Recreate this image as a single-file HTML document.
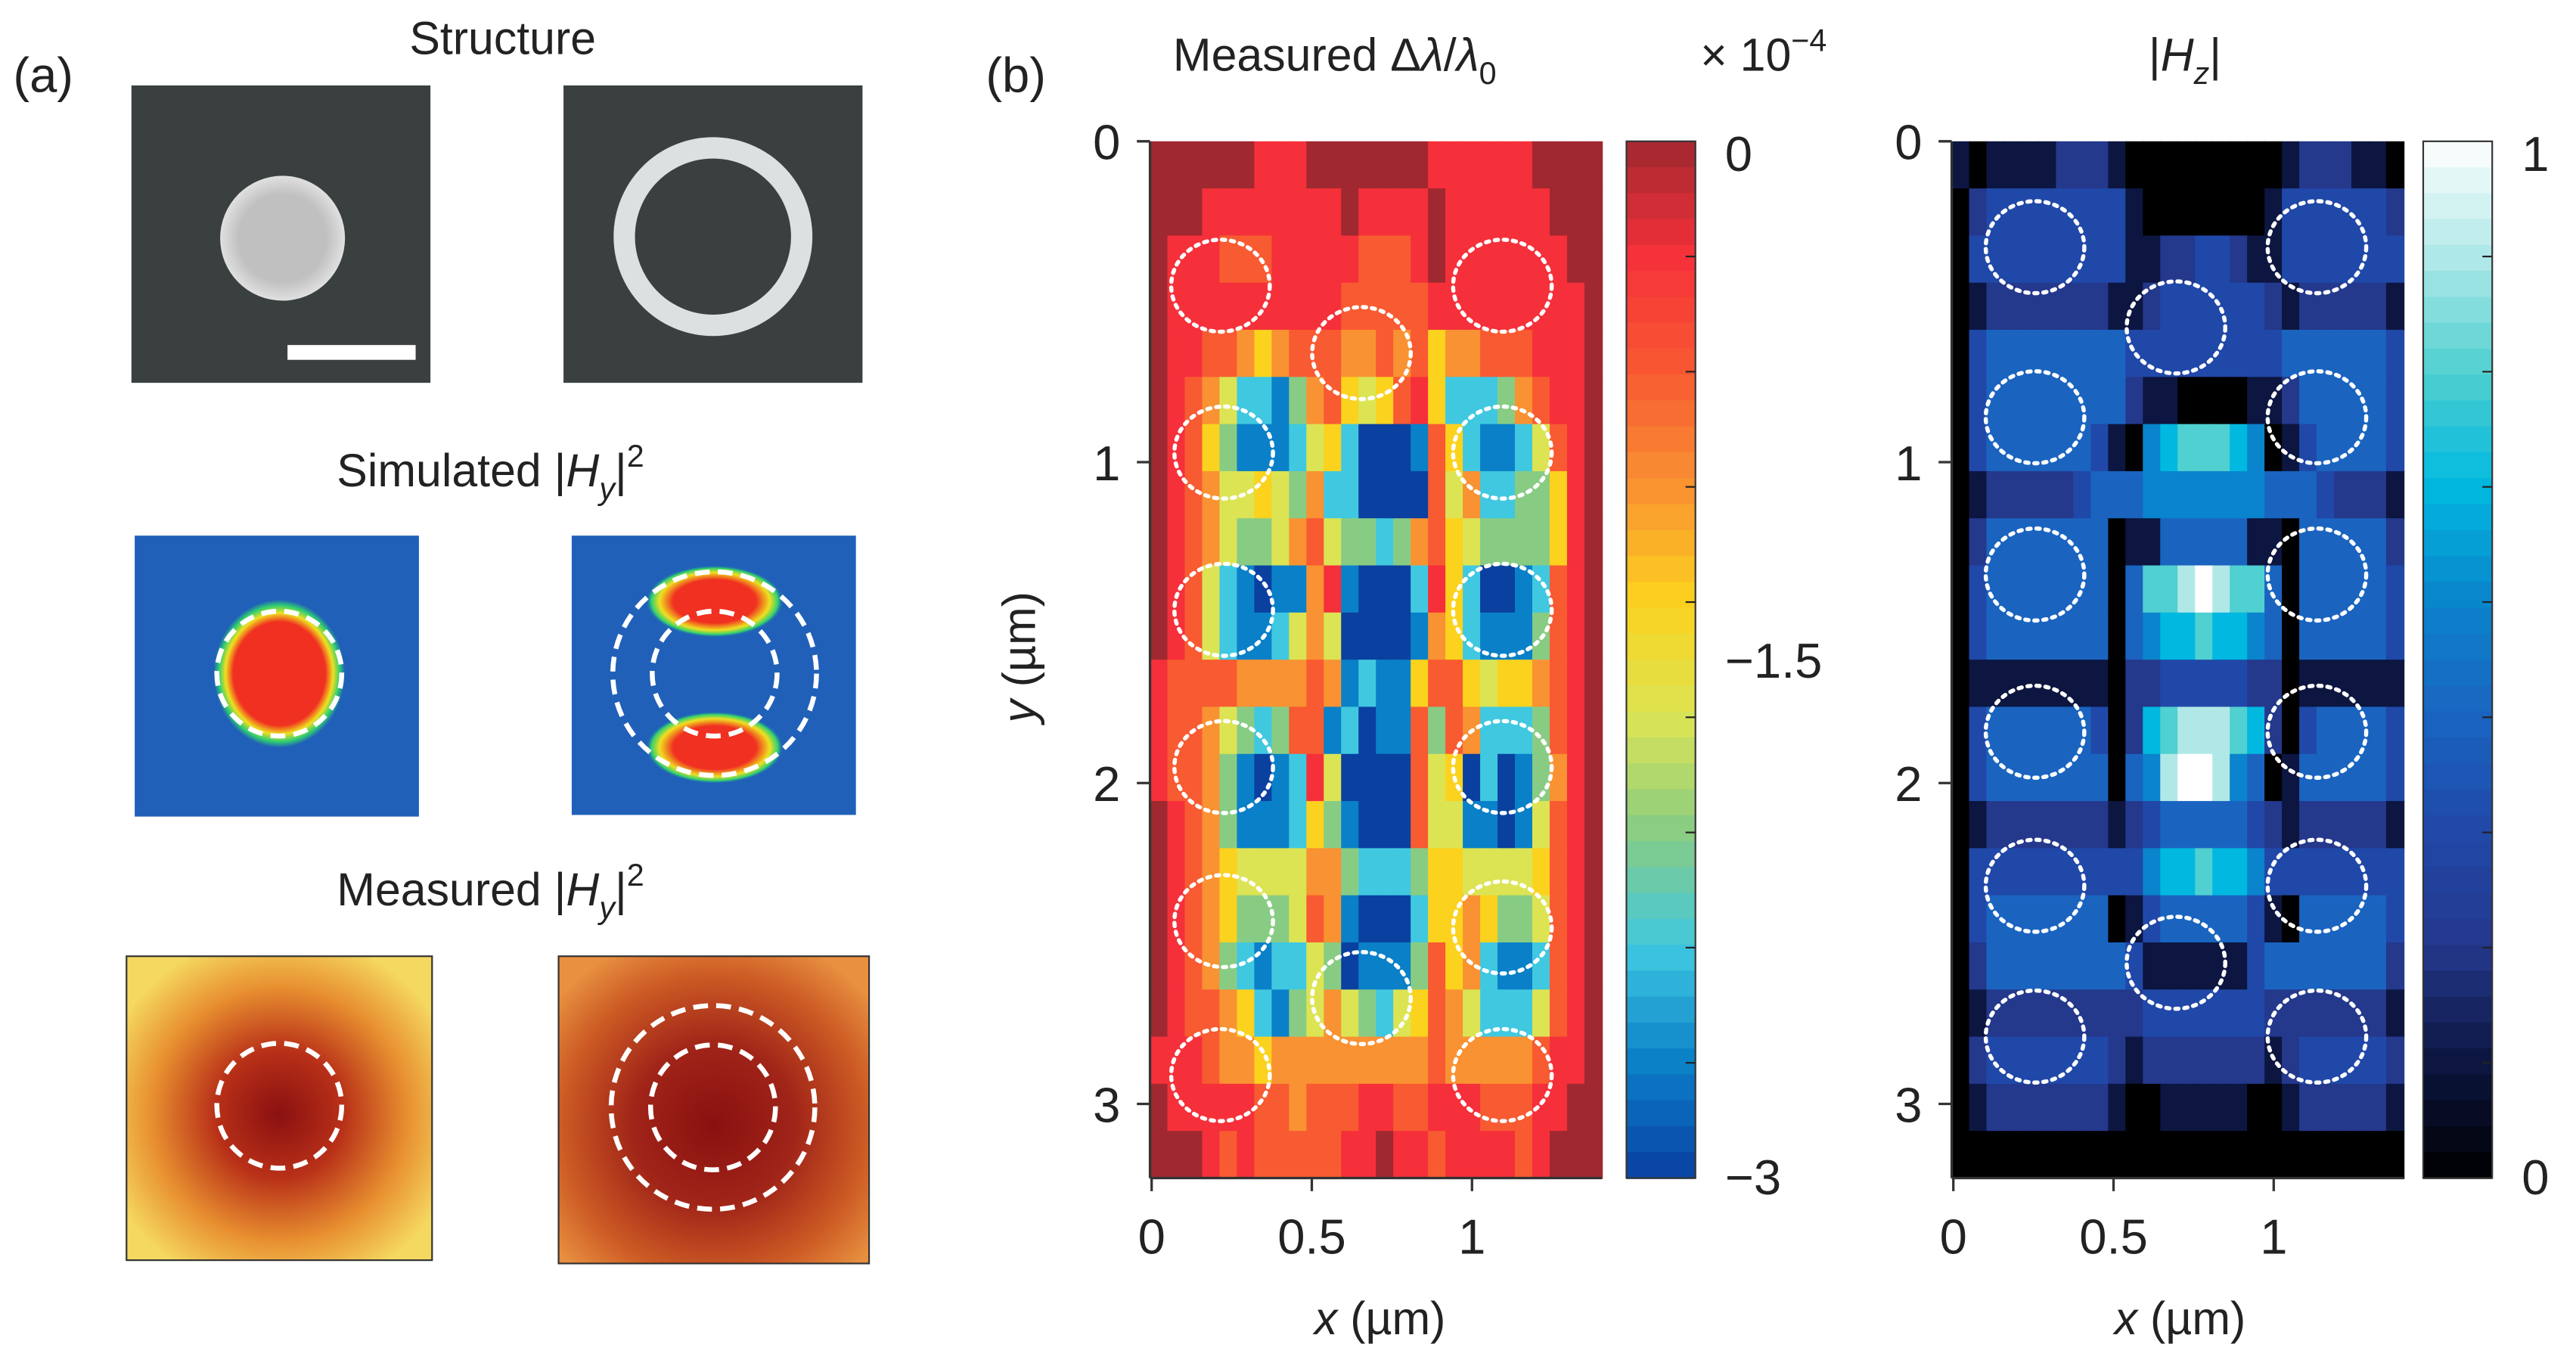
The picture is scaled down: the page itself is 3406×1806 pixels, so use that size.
<!DOCTYPE html>
<html><head><meta charset="utf-8"><style>
html,body{margin:0;padding:0;background:#fff}
svg{display:block}
text{font-family:"Liberation Sans","DejaVu Sans",sans-serif;fill:#222}
</style></head><body>
<svg id="fig" width="3406" height="1806" viewBox="0 0 1568 831.4" preserveAspectRatio="none" xmlns="http://www.w3.org/2000/svg">
<defs>
<radialGradient id="sim1" cx="50%" cy="50%" r="50%"><stop offset="0.7" stop-color="#f03020"/><stop offset="0.82" stop-color="#f0e020"/><stop offset="0.92" stop-color="#30d070"/><stop offset="1" stop-color="#2060b8"/></radialGradient>
<radialGradient id="sim2" cx="50%" cy="50%" r="50%"><stop offset="0.6" stop-color="#f03020"/><stop offset="0.8" stop-color="#f0e020"/><stop offset="0.92" stop-color="#30d070"/><stop offset="1" stop-color="#2060b8" stop-opacity="0"/></radialGradient>
<radialGradient id="meas1" cx="50%" cy="52%" r="60%"><stop offset="0" stop-color="#8a1010"/><stop offset="0.35" stop-color="#b83018"/><stop offset="0.7" stop-color="#e89030"/><stop offset="1" stop-color="#f5d860"/></radialGradient>
<radialGradient id="meas2" cx="50%" cy="55%" r="65%"><stop offset="0" stop-color="#8a1010"/><stop offset="0.4" stop-color="#a02418"/><stop offset="0.75" stop-color="#cc5a24"/><stop offset="1" stop-color="#e89040"/></radialGradient>
<radialGradient id="semdot" cx="50%" cy="50%" r="50%"><stop offset="0.7" stop-color="#c0c0c0"/><stop offset="1" stop-color="#e0e0e0"/></radialGradient>
</defs>

<text x="8" y="56" font-size="30">(a)</text>
<text x="306" y="33" font-size="28" text-anchor="middle">Structure</text>
<g>
<rect x="80" y="52" width="182" height="181" fill="#3a4040"/>
<circle cx="172" cy="145" r="38" fill="url(#semdot)"/>
<rect x="175" y="210" width="78" height="9" fill="#fff"/>
</g>
<g>
<rect x="343" y="52" width="182" height="181" fill="#3a4040"/>
<circle cx="434" cy="144" r="54" fill="none" stroke="#dde0e0" stroke-width="13"/>
</g>
<text x="205" y="296" font-size="28">Simulated |<tspan font-style="italic">H</tspan><tspan font-size="19" dy="8" font-style="italic">y</tspan><tspan dy="-8">|</tspan><tspan font-size="19" dy="-12">2</tspan></text>
<g>
<rect x="82" y="326" width="173" height="171" fill="#2060b8"/>
<ellipse cx="170" cy="410" rx="40" ry="45" fill="url(#sim1)"/>
<circle cx="170" cy="410" r="38" fill="none" stroke="#fff" stroke-width="3" stroke-dasharray="9 5"/>
</g>
<g>
<rect x="348" y="326" width="173" height="170" fill="#2060b8"/>
<ellipse cx="435" cy="366" rx="42" ry="22" fill="url(#sim2)"/>
<ellipse cx="435" cy="455" rx="42" ry="22" fill="url(#sim2)"/>
<circle cx="435" cy="410" r="62" fill="none" stroke="#fff" stroke-width="3" stroke-dasharray="9 5"/>
<circle cx="435" cy="410" r="38" fill="none" stroke="#fff" stroke-width="3" stroke-dasharray="9 5"/>
</g>
<text x="205" y="551" font-size="28">Measured |<tspan font-style="italic">H</tspan><tspan font-size="19" dy="8" font-style="italic">y</tspan><tspan dy="-8">|</tspan><tspan font-size="19" dy="-12">2</tspan></text>
<g>
<rect x="77" y="582" width="186" height="185" fill="url(#meas1)" stroke="#333" stroke-width="1"/>
<circle cx="170" cy="673" r="38" fill="none" stroke="#fff" stroke-width="3" stroke-dasharray="9 5"/>
</g>
<g>
<rect x="340" y="582" width="189" height="187" fill="url(#meas2)" stroke="#333" stroke-width="1"/>
<circle cx="434" cy="674" r="62" fill="none" stroke="#fff" stroke-width="3" stroke-dasharray="9 5"/>
<circle cx="434" cy="674" r="38" fill="none" stroke="#fff" stroke-width="3" stroke-dasharray="9 5"/>
</g>

<text x="600" y="56" font-size="30">(b)</text>
<text x="714" y="43" font-size="28">Measured Δ<tspan font-style="italic">λ</tspan>/<tspan font-style="italic">λ</tspan><tspan font-size="19" dy="8">0</tspan></text>
<text x="1035" y="43" font-size="28">× 10<tspan font-size="19" dy="-12">−4</tspan></text>
<text x="1330" y="43" font-size="28" text-anchor="middle">|<tspan font-style="italic">H</tspan><tspan font-size="19" dy="8" font-style="italic">z</tspan><tspan dy="-8">|</tspan></text>
<g id="leftmap"></g>
<g id="rightmap"></g>
<g id="axes"></g>
<text x="0" y="0" font-size="28" transform="translate(630,400) rotate(-90)" text-anchor="middle"><tspan font-style="italic">y</tspan> (µm)</text>
<text x="840" y="812" font-size="28" text-anchor="middle"><tspan font-style="italic">x</tspan> (µm)</text>
<text x="1327" y="812" font-size="28" text-anchor="middle"><tspan font-style="italic">x</tspan> (µm)</text>
</svg>
<script>
const leftRows = [
"00000011100000001111110000",
"00011111111011110111111000",
"01112221111122210111111100",
"01111111111222221111111110",
"01122343222332324332221110",
"01235778632454214777632110",
"01246888754799982478875210",
"01235545637799992537766410",
"01235665325667632456666410",
"01257898831899971479987210",
"01257887535999983478886210",
"12222333323878842245443210",
"12235676228798826237776210",
"12236898715999925497986310",
"01236888746899925588985210",
"01234555533677764455554210",
"01234666523899974434665210",
"01236787756988862437887210",
"01223478653567542357775210",
"11123343333333332333332110",
"01111122322211221112221100",
"00012122222110112111121000"];
const rightRows = [
"10111122210000000001222110",
"02333333331000000013333332",
"03333333331122332113333333",
"01222222211233333321222221",
"03444444443333333334444443",
"03444444442110000112444443",
"03444444310567776501344443",
"01222223444555555544432221",
"02444444401144444110444442",
"03444444404778987740444443",
"03444444404566766540444443",
"01111111102233333220111111",
"03444444302678887620344443",
"03444444404589985401444443",
"01222222212344444321222221",
"03333333333566766533333333",
"03444444401344444310444443",
"02444444443111111344444442",
"01222222222333333322222221",
"02333333321222222212333332",
"01222222210011111001222221",
"00000000000000000000000000"];
const leftColors = ["#a02830","#f5303a","#f85a32","#f99232","#fbd21e","#dce454","#88cc84","#40c8e0","#0a80c8","#0a40a0"];
const rightColors = ["#000000","#0c1640","#24388c","#2048a8","#1a64c0","#0a84cc","#00b8e0","#50d0d0","#b0e8e8","#ffffff"];
const xTicks = [0,0.5,1];
const xTickLabels = ["0","0.5","1"];
const yTicks = [0,1,2,3];
const yTickLabels = ["0","1","2","3"];
const leftCbTicks = [0,-1.5,-3];
const leftCbLabels = ["0","−1.5","−3"];
const rightCbTicks = [1,0];
const rightCbLabels = ["1","0"];
const leftCircles = [[0.22,0.45],[1.1,0.45],[0.66,0.66],[0.23,0.97],[1.1,0.97],[0.23,1.46],[1.1,1.46],[0.23,1.95],[1.1,1.95],[0.23,2.43],[1.1,2.45],[0.66,2.67],[0.22,2.91],[1.1,2.91]];
const rightCircles = [[0.26,0.33],[1.14,0.33],[0.7,0.58],[0.26,0.86],[1.14,0.86],[0.26,1.35],[1.14,1.35],[0.26,1.84],[1.14,1.84],[0.26,2.32],[1.14,2.32],[0.7,2.56],[0.26,2.79],[1.14,2.79]];
const NS="http://www.w3.org/2000/svg";
function el(t,a,p){const e=document.createElementNS(NS,t);for(const k in a)e.setAttribute(k,a[k]);p.appendChild(e);return e;}
const Y0=86, YS=195.3, PH=631, PW=275, NC=26;
function sy(v){return Y0+v*YS;}
function drawMap(g,x0,rows,cols,circles,tag){
  const nr=rows.length,cw=PW/NC,ch=PH/nr;
  rows.forEach((r0,i)=>{const r=(r0+"0".repeat(NC)).slice(0,NC);for(let j=0;j<NC;j++){
    const c=el('rect',{x:x0+j*cw,y:Y0+i*ch,width:cw+0.6,height:ch+0.6,fill:cols[+r[j]]},g);
    
    
  }});
  circles.forEach(p=>{
    const c=el('ellipse',{cx:x0+p[0]*195,cy:sy(p[1]),rx:30,ry:28,fill:'none',stroke:'#fff','stroke-width':2.5,'stroke-dasharray':'2 3.5','stroke-linecap':'round'},g);
    
    
  });
}
const lm=document.getElementById('leftmap'), rm=document.getElementById('rightmap'), ax=document.getElementById('axes');
drawMap(lm,700,leftRows,leftColors,leftCircles,'shift');
drawMap(rm,1188,rightRows,rightColors,rightCircles,'hz');
function axesFor(x0,tag){
  el('line',{x1:x0,y1:Y0+PH,x2:x0+PW,y2:Y0+PH,stroke:'#333','stroke-width':1.5},ax);
  el('line',{x1:x0,y1:Y0,x2:x0,y2:Y0+PH,stroke:'#333','stroke-width':1.5},ax);
  xTicks.forEach((v,i)=>{const x=x0+1+v*195;
    el('line',{x1:x,y1:Y0+PH,x2:x,y2:Y0+PH+8,stroke:'#333','stroke-width':1.5},ax);
    const t=el('text',{x:x,y:763,'font-size':30,'text-anchor':'middle'},ax);t.textContent=xTickLabels[i];
    
    
  });
  yTicks.forEach((v,i)=>{const y=sy(v);
    el('line',{x1:x0-8,y1:y,x2:x0,y2:y,stroke:'#333','stroke-width':1.5},ax);
    const t=el('text',{x:x0-18,y:y+11,'font-size':30,'text-anchor':'end'},ax);t.textContent=yTickLabels[i];
    
    
  });
}
axesFor(700,'left');axesFor(1188,'right');
function hex(c){return [1,3,5].map(i=>parseInt(c.substr(i,2),16));}
function colorbar(x0,cols,lo,hi,ticks,labels,tag){
  const n=40, h=PH/n;
  const g=el('g',{},ax);
  
  
  for(let i=0;i<n;i++){
    const f=(i+0.5)/n;
    const p=(tag==='left'?f:(1-f))*(cols.length-1);
    const a=Math.floor(p),b=Math.min(a+1,cols.length-1),t=p-a;
    const A=hex(cols[a]),B=hex(cols[b]);
    const c='rgb('+A.map((v,k)=>Math.round(v+(B[k]-v)*t)).join(',')+')';
    el('rect',{x:x0,y:Y0+i*h,width:42,height:h+0.6,fill:c},g);
  }
  el('rect',{x:x0,y:Y0,width:42,height:PH,fill:'none',stroke:'#333','stroke-width':1},g);
  for(let k=1;k<9;k++){const y=Y0+k*PH/9;el('line',{x1:x0+36,y1:y,x2:x0+42,y2:y,stroke:'#222','stroke-width':1},g);}
  ticks.forEach((v,i)=>{const y=Y0+(hi-v)/(hi-lo)*PH;
    const t=el('text',{x:x0+60,y:y+(i===0?18:i===ticks.length-1?10:11),'font-size':30},g);t.textContent=labels[i];
    
    
  });
}
colorbar(990,leftColors,-3,0,leftCbTicks,leftCbLabels,'left');
colorbar(1475,rightColors,0,1,rightCbTicks,rightCbLabels,'right');
</script>
</body></html>
